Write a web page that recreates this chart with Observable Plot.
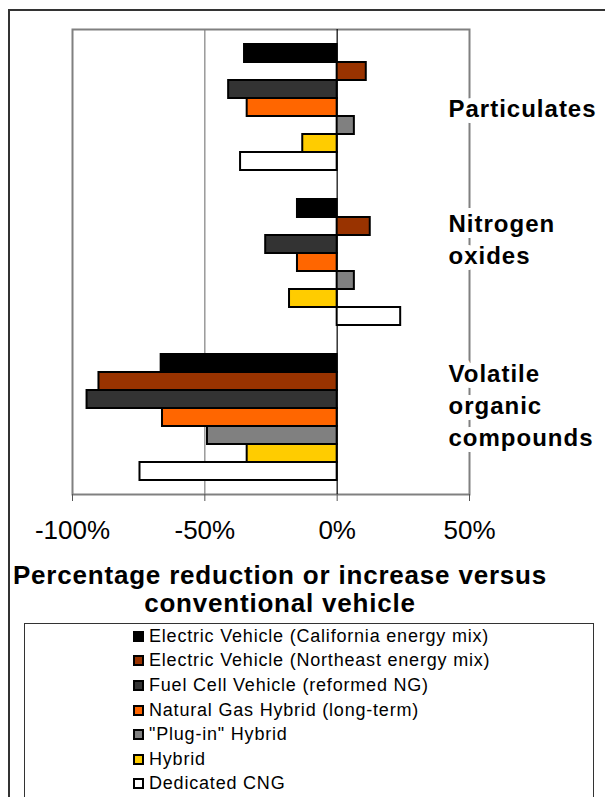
<!DOCTYPE html>
<html><head><meta charset="utf-8">
<script src="https://cdn.jsdelivr.net/npm/d3@7"></script>
<script src="https://cdn.jsdelivr.net/npm/@observablehq/plot@0.6"></script>
<style>
body{margin:0;background:#fff;font-family:"Liberation Sans",Arial,sans-serif;}
#wrap{position:relative;width:605px;height:797px;overflow:hidden;background:#fff;}
#border{position:absolute;left:8px;top:9px;width:620px;height:820px;border-top:2px solid #333;border-left:2px solid #333;}
#chart{position:absolute;left:0;top:0;}
#chart svg{overflow:visible;}
g[aria-label="text"] text{letter-spacing:1px;}
#title{position:absolute;top:561px;left:0;width:560px;text-align:center;font-weight:bold;font-size:26px;line-height:28px;letter-spacing:0.8px;color:#000;}
#legend{position:absolute;left:24px;top:623px;width:570px;height:230px;border:1px solid #333;padding-left:108px;box-sizing:border-box;background:#fff;}
.item{height:24.6px;display:flex;align-items:center;font-size:18px;letter-spacing:0.8px;color:#000;white-space:nowrap;}
.sw{width:11px;height:11px;border:2px solid #000;box-sizing:border-box;margin-right:5px;flex:none;}
</style></head><body>
<div id="wrap"><div id="border"></div><div id="chart"></div><div id="title">Percentage reduction or increase versus<br>conventional vehicle</div><div id="legend"></div></div>
<script>
const categories = ["Particulates", "Nitrogen oxides", "Volatile organic compounds"];
const categoryLabels = ["Particulates", "Nitrogen\noxides", "Volatile\norganic\ncompounds"];
const series = [
  "Electric Vehicle (California energy mix)",
  "Electric Vehicle (Northeast energy mix)",
  "Fuel Cell Vehicle (reformed NG)",
  "Natural Gas Hybrid (long-term)",
  "\"Plug-in\" Hybrid",
  "Hybrid",
  "Dedicated CNG"
];
const seriesColors = ["#000000", "#993300", "#333333", "#FF6600", "#808080", "#FFCC00", "#FFFFFF"];
const particulates = [-35, 11, -41, -34, 6.5, -13, -36.5];
const nitrogenOxides = [-15, 12.5, -27, -15, 6.5, -18, 24];
const volatileOrganics = [-66.5, -90, -94.5, -66, -49, -34, -74.5];
const xTicks = [-100, -50, 0, 50];

const valuesByCategory = [particulates, nitrogenOxides, volatileOrganics];
const data = categories.flatMap((c, i) => valuesByCategory[i].map((v, j) => ({category: c, series: series[j], value: v})));

const labelDy = [0, -24, -13];
const labelMarks = categories.map((c, i) => Plot.text([c], {
  fy: d => d, text: () => categoryLabels[i],
  frameAnchor: "right", textAnchor: "start", dx: -21, dy: labelDy[i],
  fontSize: 24, fontWeight: "bold", lineHeight: 1.32,
  fill: "#000", stroke: "white", strokeWidth: 12, strokeLinejoin: "round"
}));

const plot = Plot.plot({
  width: 605, height: 555,
  marginTop: 28, marginBottom: 61, marginLeft: 72, marginRight: 136,
  style: {fontFamily: "'Liberation Sans', Arial, sans-serif", background: "transparent", color: "#000"},
  x: {domain: [-100, 50]},
  y: {domain: series, axis: null, paddingInner: 0, paddingOuter: 0.64},
  fy: {domain: categories, axis: null, padding: 0},
  color: {domain: series, range: seriesColors},
  marks: [
    Plot.ruleX([-50], {stroke: "#808080", strokeWidth: 1.2}),
    Plot.frame({facet: "super", stroke: "#808080", strokeWidth: 2}),
    Plot.ruleX([0], {stroke: "#000", strokeWidth: 1.2}),
    Plot.barX(data, {fy: "category", y: "series", x: "value", fill: "series", stroke: "#000", strokeWidth: 2, insetTop: 0, insetBottom: 0}),
    Plot.axisX(xTicks, {anchor: "bottom", tickFormat: d => d + "%", tickSize: 7, tickPadding: 19, fontSize: 26, stroke: "#555", label: null}),
    ...labelMarks
  ]
});
document.getElementById("chart").appendChild(plot);

const legend = document.getElementById("legend");
series.forEach((s, i) => {
  const item = document.createElement("div");
  item.className = "item";
  const sw = document.createElement("span");
  sw.className = "sw";
  sw.style.background = seriesColors[i];
  const t = document.createElement("span");
  t.textContent = s;
  item.appendChild(sw);
  item.appendChild(t);
  legend.appendChild(item);
});
</script>
</body></html>
